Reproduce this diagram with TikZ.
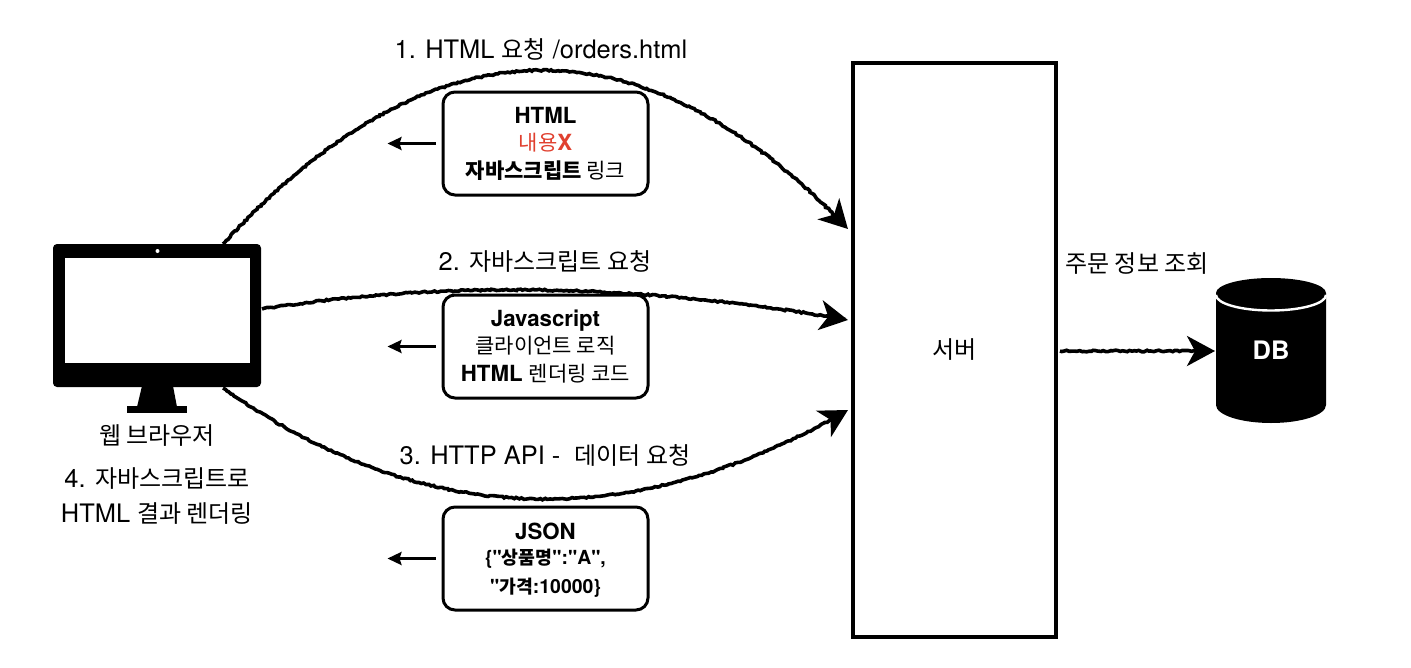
\documentclass[tikz,border=0pt]{standalone}
\usepackage{fontspec}
\setmainfont[Scale=1.06]{TeX Gyre Heros}
\newfontfamily\hvplain[Scale=1.06]{TeX Gyre Heros}
\newfontfamily\krfont{Noto Sans CJK KR}
\newcommand{\K}[1]{{\krfont #1}}
\usetikzlibrary{arrows.meta,calc,decorations.pathmorphing}
\definecolor{redtxt}{HTML}{E0402F}
\tikzset{
  lab/.style={inner sep=0pt,font=\fontsize{24}{35}\selectfont,align=center,text=black},
  boxtxt/.style={draw=black,line width=3pt,rounded corners=12pt,minimum width=205pt,inner sep=0pt,align=center,font=\fontsize{21}{27.5}\selectfont},
  sketch/.style={line width=3.6pt,draw=black,
    decoration={random steps,segment length=2.4pt,amplitude=.8pt,post=lineto,post length=16pt},decorate,
    -{Stealth[length=28pt,width=30pt,inset=8pt]}},
  backarrow/.style={line width=2.6pt,draw=black,-{Stealth[length=14pt,width=13pt,inset=2pt]}},
  ghost/.style={inner sep=0pt,outer sep=0pt}
}
\begin{document}
\begin{tikzpicture}[x=1pt,y=-1pt]
\useasboundingbox (0,0) rectangle (1411,667);
% server
\node[draw=black,line width=4pt,minimum width=203pt,minimum height=574pt,inner sep=0pt,font=\fontsize{24}{28}\selectfont] (server) at (954.5,350) {\K{서버}};
% monitor
\fill[black,rounded corners=4pt] (53,244) rectangle (261,387);
\fill[white] (65,258) rectangle (250,363);
\fill[white] (157.5,251) circle (2pt);
\fill[black] (142,386) -- (173,386) -- (177,407) -- (137,407) -- cycle;
\fill[black] (127,406) rectangle (187,413);
\node[ghost,minimum width=208pt,minimum height=143pt] (browser) at (157,315.5) {};
% database
\fill[black] (1216,293) arc[start angle=180,end angle=0,x radius=55pt,y radius=15pt]
  -- (1326,405) arc[start angle=0,end angle=-180,x radius=55pt,y radius=18pt] -- cycle;
\draw[white,line width=2.4pt] (1216,295) arc[start angle=180,end angle=360,x radius=55pt,y radius=15.5pt];
\node[ghost,minimum width=110pt,minimum height=145pt,text=white,font=\bfseries\fontsize{24}{28}\selectfont] (db) at (1271,350.5) {DB};
% boxes
\node[boxtxt,minimum height=103pt] (box1) at (545.5,143.5) {\textbf{HTML}\\{\color{redtxt}\K{내용}\textbf{X}}\\\K{\bfseries 자바스크립트 \mdseries 링크}};
\node[boxtxt,minimum height=103pt] (box2) at (545.5,346.5) {\textbf{Javascript}\\\K{클라이언트 로직}\\\textbf{HTML} \K{렌더링 코드}};
\node[boxtxt,minimum height=103pt,font=\hvplain\bfseries\fontsize{18.3}{29}\selectfont] (box3) at (545.5,558.5) {\rule{0pt}{20pt}{\fontsize{21}{27}\selectfont JSON}\\[-4pt]\{"\K{\bfseries 상품명}":"A",\\"\K{\bfseries 가격}:10000\}};
% labels
\node[lab] (l1) at (541,49) {1. HTML \K{요청} /orders.html};
\node[lab] (l2) at (545,261) {2. \K{자바스크립트 요청}};
\node[lab] (l3) at (545,455) {3. HTTP API - \ \K{데이터 요청}};
\node[lab] (l4) at (1137,264) {\K{주문 정보 조회}};
\node[lab] (l5) at (157,436) {\K{웹 브라우저}};
\node[lab] (l6) at (157,496) {4. \K{자바스크립트로}\\HTML \K{결과 렌더링}};
% connector ends
\coordinate (s1) at ($(browser.north west)+(170,0)$);
\coordinate (s2) at ($(browser.north east)+(1,65)$);
\coordinate (s3) at ($(browser.south west)+(170,1)$);
\coordinate (e1) at ($(server.north west)+(-3,168)$);
\coordinate (e2) at ($(server.north west)+(-3,259)$);
\coordinate (e3) at ($(server.north west)+(-3,349)$);
\coordinate (b1) at ($(box1.west)+(-6,0)$);
\coordinate (b1e) at ($(box1.west)+(-54,0)$);
\coordinate (b2) at ($(box2.west)+(-6,0)$);
\coordinate (b2e) at ($(box2.west)+(-54,0)$);
\coordinate (b3) at ($(box3.west)+(-6,0)$);
\coordinate (b3e) at ($(box3.west)+(-54,0)$);
% connectors
\draw[sketch] (s1) .. controls (432,17) and (641,13) .. (e1);
\draw[sketch] (s2) .. controls (447,280) and (643,284) .. (e2);
\draw[sketch] (s3) .. controls (421,528) and (630,536) .. (e3);
\draw[sketch] ($(server.east)+(2,1)$) -- ($(db.west)+(-1,0.5)$);
\draw[backarrow] (b1) -- (b1e);
\draw[backarrow] (b2) -- (b2e);
\draw[backarrow] (b3) -- (b3e);
\end{tikzpicture}
\end{document}
